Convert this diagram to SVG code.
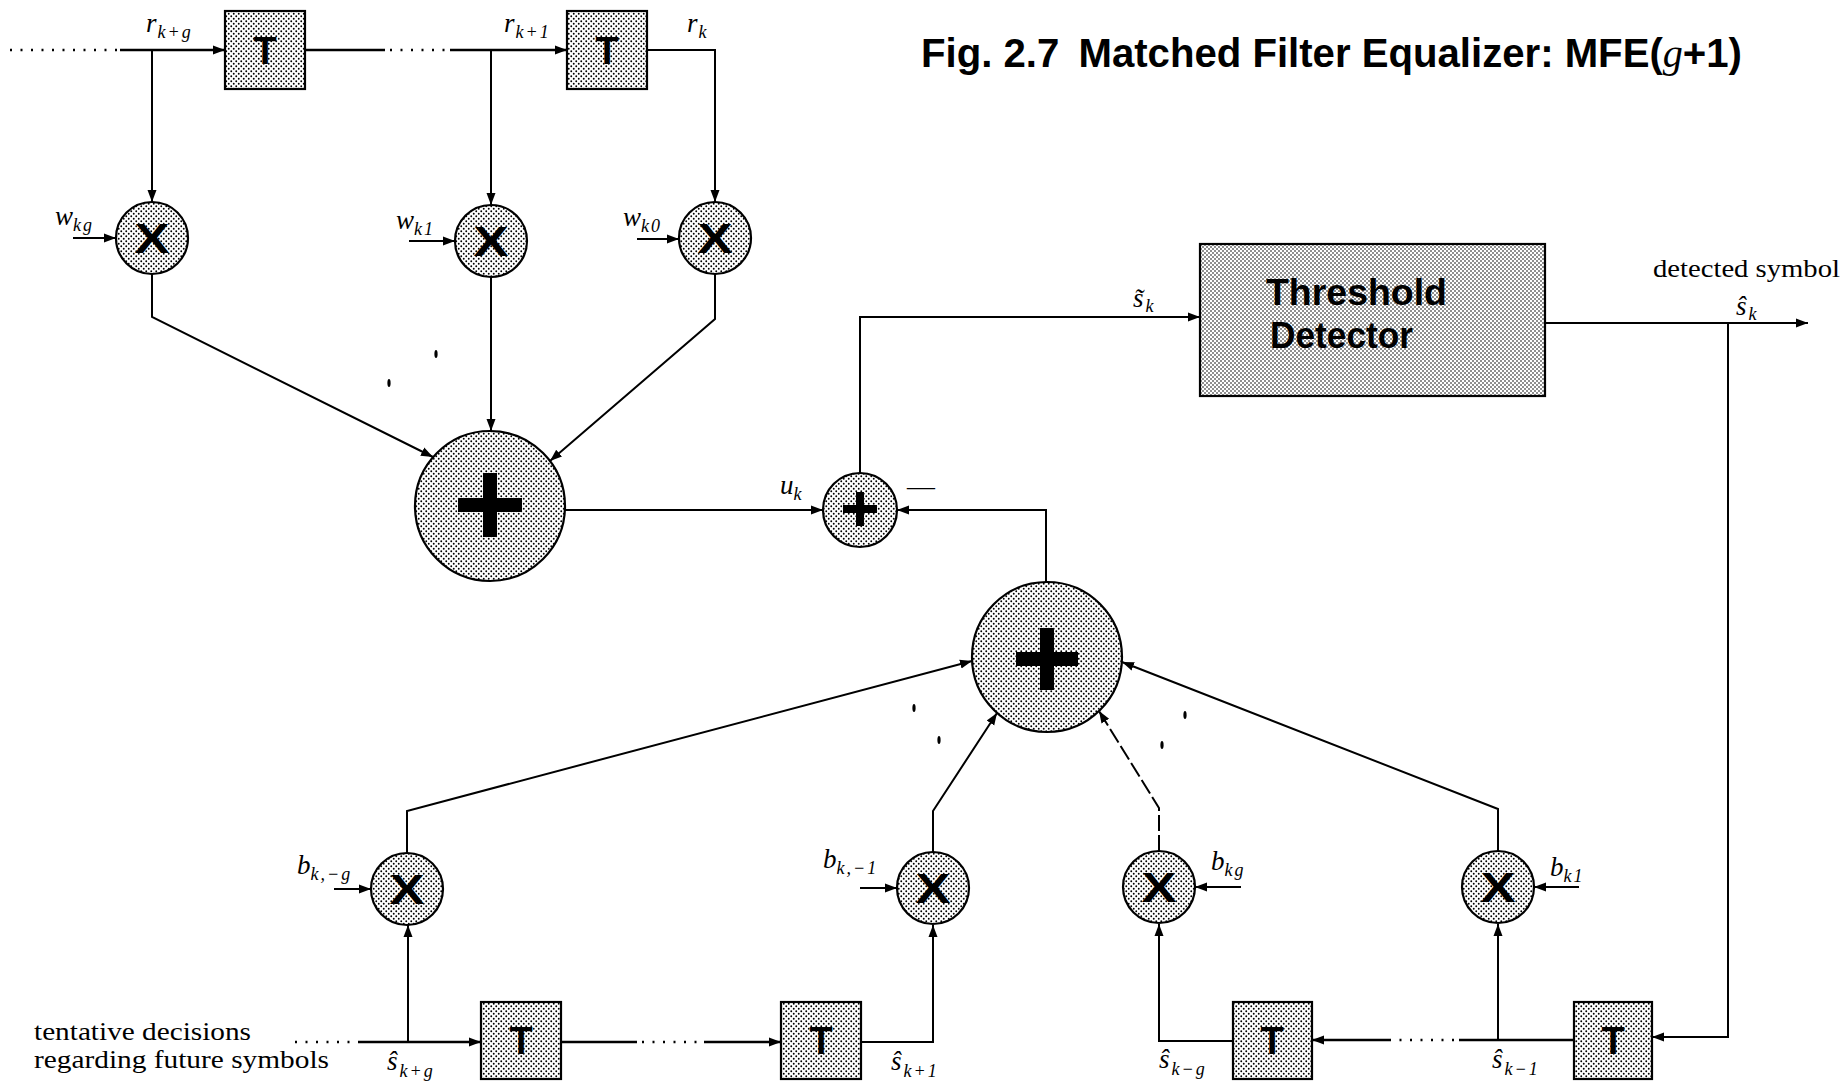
<svg xmlns="http://www.w3.org/2000/svg" width="1848" height="1081" viewBox="0 0 1848 1081">
<defs>
<pattern id="dotL" width="5" height="5" patternUnits="userSpaceOnUse"><rect width="5" height="5" fill="#fff"/><circle cx="1.25" cy="1.25" r="0.95" fill="#000"/><circle cx="3.75" cy="3.75" r="0.95" fill="#000"/></pattern>
<pattern id="dotD" width="4" height="4" patternUnits="userSpaceOnUse"><rect width="4" height="4" fill="#fff"/><circle cx="1" cy="1" r="0.8" fill="#000"/><circle cx="3" cy="3" r="0.8" fill="#000"/></pattern>
<marker id="ah" markerUnits="userSpaceOnUse" markerWidth="13" markerHeight="10" refX="12" refY="5" orient="auto" viewBox="0 0 13 10"><path d="M0,0.5 L12,5 L0,9.5 z" fill="#000"/></marker>
</defs>
<style>
.ln{fill:none;stroke:#000;stroke-width:2}
.hv{stroke-width:2.6}
.ar{marker-end:url(#ah)}
.dt{fill:none;stroke:#000;stroke-width:2.4;stroke-dasharray:2 8.5}
.dash{stroke-dasharray:16 4}
.node{fill:url(#dotL);stroke:#000;stroke-width:2.2}
.dense{fill:url(#dotD)}
.tlab{font-family:"Liberation Sans",Arial,sans-serif;font-weight:bold;font-size:38px;text-anchor:middle}
.mul{font-family:"Liberation Sans",Arial,sans-serif;font-weight:bold;font-size:43px;text-anchor:middle}
.m{font-family:"Liberation Serif","Times New Roman",serif;font-style:italic;font-size:27px}
.sub{font-size:18px;letter-spacing:2px}
.rm{font-family:"Liberation Serif","Times New Roman",serif;font-size:25px}
.ttl{font-family:"Liberation Sans",Arial,sans-serif;font-weight:bold;font-size:40px}
.big{font-family:"Liberation Sans",Arial,sans-serif;font-weight:bold;font-size:37px}
.bar{fill:#000}
</style>
<rect width="1848" height="1081" fill="#fff"/>

<text class="ttl" x="921" y="67" textLength="821" lengthAdjust="spacingAndGlyphs">Fig. 2.7 <tspan dx="8">Matched Filter Equalizer: MFE(</tspan><tspan font-family="Liberation Serif" font-style="italic" font-weight="normal">g</tspan>+1)</text>

<g id="connectors">
  <line class="dt" x1="10" y1="50" x2="120" y2="50"/>
  <line class="ln hv ar" x1="120" y1="50" x2="225" y2="50"/>
  <line class="ln ar" x1="152" y1="50" x2="152" y2="202"/>
  <line class="ln hv" x1="305" y1="50" x2="385" y2="50"/>
  <line class="dt" x1="390" y1="50" x2="450" y2="50"/>
  <line class="ln hv ar" x1="450" y1="50" x2="567" y2="50"/>
  <line class="ln ar" x1="491" y1="50" x2="491" y2="205"/>
  <polyline class="ln ar" points="647,50 715,50 715,202"/>
  <line class="ln ar" x1="73" y1="238" x2="116" y2="238"/>
  <line class="ln ar" x1="409" y1="241" x2="455" y2="241"/>
  <line class="ln ar" x1="637" y1="239" x2="679" y2="239"/>
  <polyline class="ln ar" points="152,274 152,317 433,457"/>
  <line class="ln ar" x1="491" y1="277" x2="491" y2="431"/>
  <polyline class="ln ar" points="715,274 715,319 550,461"/>
  <line class="ln ar" x1="565" y1="510" x2="823" y2="510"/>
  <polyline class="ln ar" points="860,473 860,317 1200,317"/>
  <polyline class="ln ar" points="1046,582 1046,510 897,510"/>
  <line class="ln ar" x1="1545" y1="323" x2="1808" y2="323"/>
  <polyline class="ln ar" points="1728,323 1728,1037 1652,1037"/>
  <line class="dt" x1="295" y1="1042" x2="358" y2="1042"/>
  <line class="ln hv ar" x1="358" y1="1042" x2="481" y2="1042"/>
  <line class="ln ar" x1="408" y1="1042" x2="408" y2="925"/>
  <line class="ln hv" x1="561" y1="1042" x2="637" y2="1042"/>
  <line class="dt" x1="642" y1="1042" x2="704" y2="1042"/>
  <line class="ln hv ar" x1="704" y1="1042" x2="781" y2="1042"/>
  <polyline class="ln ar" points="861,1042 933,1042 933,925"/>
  <line class="ln hv" x1="1574" y1="1040" x2="1459" y2="1040"/>
  <line class="dt" x1="1454" y1="1040" x2="1389" y2="1040"/>
  <line class="ln hv ar" x1="1389" y1="1040" x2="1312" y2="1040"/>
  <line class="ln ar" x1="1498" y1="1040" x2="1498" y2="924"/>
  <polyline class="ln ar" points="1233,1041 1159,1041 1159,924"/>
  <line class="ln ar" x1="334" y1="889" x2="371" y2="889"/>
  <line class="ln ar" x1="860" y1="888" x2="897" y2="888"/>
  <line class="ln ar" x1="1241" y1="887" x2="1195" y2="887"/>
  <line class="ln ar" x1="1579" y1="887" x2="1534" y2="887"/>
  <polyline class="ln ar" points="407,853 407,811 972,661"/>
  <polyline class="ln ar" points="933,852 933,811 997,713"/>
  <polyline class="ln ar dash" points="1159,851 1159,808 1099,711"/>
  <polyline class="ln ar" points="1498,851 1498,809 1122,662"/>
  <ellipse cx="436" cy="354" rx="1.6" ry="4" class="bar"/>
  <ellipse cx="389" cy="383" rx="1.6" ry="4" class="bar"/>
  <ellipse cx="914" cy="708" rx="1.6" ry="4" class="bar"/>
  <ellipse cx="939" cy="740" rx="1.6" ry="4" class="bar"/>
  <ellipse cx="1185" cy="715" rx="1.6" ry="4" class="bar"/>
  <ellipse cx="1162" cy="745" rx="1.6" ry="4" class="bar"/>
</g>

<g id="labels">
  <text class="m" x="146" y="32">r<tspan class="sub" dx="1" dy="6">k+g</tspan></text>
  <text class="m" x="504" y="32">r<tspan class="sub" dx="1" dy="6">k+1</tspan></text>
  <text class="m" x="687" y="32">r<tspan class="sub" dx="1" dy="6">k</tspan></text>
  <text class="m" x="55" y="225">w<tspan class="sub" dy="6">kg</tspan></text>
  <text class="m" x="396" y="229">w<tspan class="sub" dy="6">k1</tspan></text>
  <text class="m" x="623" y="226">w<tspan class="sub" dy="6">k0</tspan></text>
  <text class="m" x="780" y="494">u<tspan class="sub" dy="6">k</tspan></text>
  <text class="m" x="907" y="495" font-style="normal" textLength="28" lengthAdjust="spacingAndGlyphs">—</text>
  <text class="m" x="1133" y="307">s̃<tspan class="sub" dx="2" dy="5">k</tspan></text>
  <text class="rm" x="1653" y="277" textLength="187" lengthAdjust="spacingAndGlyphs">detected symbol</text>
  <text class="m" x="1736" y="315">ŝ<tspan class="sub" dx="2" dy="5">k</tspan></text>
  <text class="m" x="297" y="874">b<tspan class="sub" dy="6">k,−g</tspan></text>
  <text class="m" x="823" y="868">b<tspan class="sub" dy="6">k,−1</tspan></text>
  <text class="m" x="1211" y="870">b<tspan class="sub" dy="6">kg</tspan></text>
  <text class="m" x="1550" y="876">b<tspan class="sub" dy="6">k1</tspan></text>
  <text class="m" x="387" y="1070">ŝ<tspan class="sub" dx="2" dy="7">k+g</tspan></text>
  <text class="m" x="891" y="1070">ŝ<tspan class="sub" dx="2" dy="7">k+1</tspan></text>
  <text class="m" x="1159" y="1068">ŝ<tspan class="sub" dx="2" dy="7">k−g</tspan></text>
  <text class="m" x="1492" y="1068">ŝ<tspan class="sub" dx="2" dy="7">k−1</tspan></text>
  <text class="rm" x="34" y="1040" textLength="217" lengthAdjust="spacingAndGlyphs">tentative decisions</text>
  <text class="rm" x="34" y="1068" textLength="295" lengthAdjust="spacingAndGlyphs">regarding future symbols</text>
</g>

<g id="delay-top-1"><rect class="node" x="225" y="11" width="80" height="78"/><text class="tlab" x="265" y="64">T</text></g>
<g id="delay-top-2"><rect class="node" x="567" y="11" width="80" height="78"/><text class="tlab" x="607" y="64">T</text></g>

<g id="mult-wkg"><circle class="node" cx="152" cy="238" r="36"/><text class="mul" x="152" y="253" textLength="35" lengthAdjust="spacingAndGlyphs">X</text></g>
<g id="mult-wk1"><circle class="node" cx="491" cy="241" r="36"/><text class="mul" x="491" y="256" textLength="35" lengthAdjust="spacingAndGlyphs">X</text></g>
<g id="mult-wk0"><circle class="node" cx="715" cy="238" r="36"/><text class="mul" x="715" y="253" textLength="35" lengthAdjust="spacingAndGlyphs">X</text></g>

<g id="sum-forward"><circle class="node" cx="490" cy="506" r="75"/><rect class="bar" x="458" y="498" width="64" height="14"/><rect class="bar" x="483" y="473" width="14" height="64"/></g>

<g id="subtractor"><circle class="node" cx="860" cy="510" r="37"/><rect class="bar" x="843" y="505" width="34" height="8"/><rect class="bar" x="856" y="492" width="8" height="34"/></g>

<g id="threshold-detector"><rect class="node dense" x="1200" y="244" width="345" height="152"/><text class="big" x="1266" y="305" textLength="181" lengthAdjust="spacingAndGlyphs">Threshold</text><text class="big" x="1270" y="348" textLength="143" lengthAdjust="spacingAndGlyphs">Detector</text></g>

<g id="sum-feedback"><circle class="node" cx="1047" cy="657" r="75"/><rect class="bar" x="1016" y="652" width="62" height="14"/><rect class="bar" x="1040" y="628" width="14" height="62"/></g>

<g id="mult-bk-g"><circle class="node" cx="407" cy="889" r="36"/><text class="mul" x="407" y="904" textLength="35" lengthAdjust="spacingAndGlyphs">X</text></g>
<g id="mult-bk-1"><circle class="node" cx="933" cy="888" r="36"/><text class="mul" x="933" y="903" textLength="35" lengthAdjust="spacingAndGlyphs">X</text></g>
<g id="mult-bkg"><circle class="node" cx="1159" cy="887" r="36"/><text class="mul" x="1159" y="902" textLength="35" lengthAdjust="spacingAndGlyphs">X</text></g>
<g id="mult-bk1"><circle class="node" cx="1498" cy="887" r="36"/><text class="mul" x="1498" y="902" textLength="35" lengthAdjust="spacingAndGlyphs">X</text></g>

<g id="delay-bot-1"><rect class="node" x="481" y="1002" width="80" height="77"/><text class="tlab" x="521" y="1054">T</text></g>
<g id="delay-bot-2"><rect class="node" x="781" y="1002" width="80" height="77"/><text class="tlab" x="821" y="1054">T</text></g>
<g id="delay-bot-3"><rect class="node" x="1233" y="1002" width="79" height="77"/><text class="tlab" x="1272" y="1054">T</text></g>
<g id="delay-bot-4"><rect class="node" x="1574" y="1002" width="78" height="77"/><text class="tlab" x="1613" y="1054">T</text></g>
</svg>
